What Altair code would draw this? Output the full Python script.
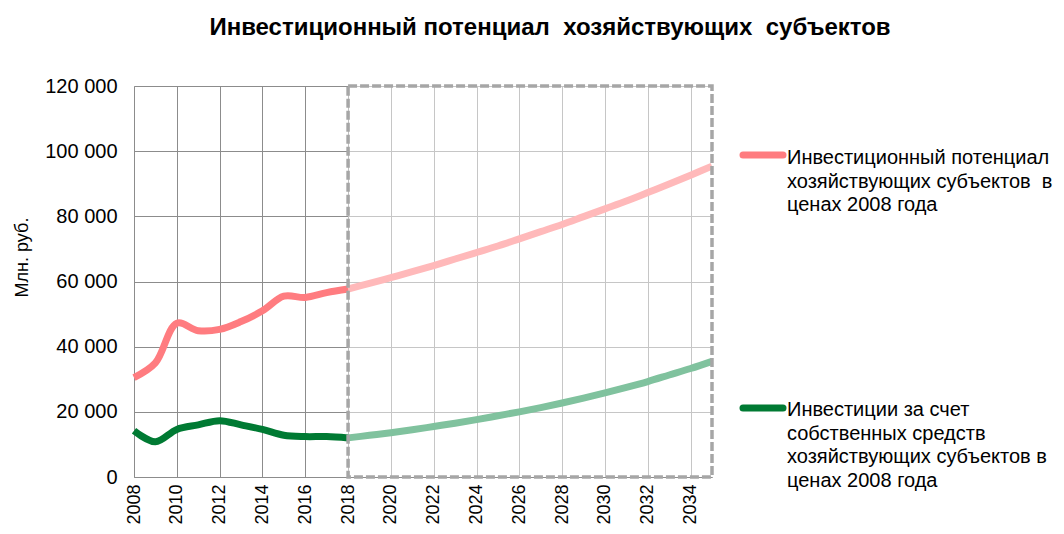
import altair as alt
import pandas as pd

# ---- data ----
hist_years = list(range(2008, 2019))
fc_years = list(range(2018, 2036))

potential_hist = [30500, 35000, 47200, 44900, 45300, 47700, 51000, 55500, 55100, 56600, 57700]
potential_fc = [57700, 59400, 61200, 63000, 64900, 66900, 68900, 70900, 73100, 75300,
                77500, 79900, 82300, 84700, 87300, 89900, 92600, 95400]
own_hist = [14200, 10800, 14600, 16000, 17300, 16000, 14600, 12800, 12400, 12400, 12000]
own_fc = [12000, 12800, 13600, 14500, 15500, 16500, 17600, 18800, 20000, 21300,
          22700, 24200, 25800, 27500, 29300, 31300, 33300, 35500]

series_names = [
    "Инвестиционный потенциал\nхозяйствующих субъектов \u00a0в\nценах 2008 года",
    "Инвестиции за счет\nсобственных средств\nхозяйствующих субъектов в\nценах 2008 года",
]
title_text = "Инвестиционный потенциал \u00a0хозяйствующих \u00a0субъектов"
y_title = "Млн. руб."

FONT = "Liberation Sans"
RED, PINK = "#FF7C80", "#FFB9BA"
DGREEN, LGREEN = "#007A33", "#80C29E"

rows = []
for y, v in zip(hist_years, potential_hist):
    rows.append({"year": y, "value": v, "s": "p_hist"})
for y, v in zip(fc_years, potential_fc):
    rows.append({"year": y, "value": v, "s": "p_fc"})
for y, v in zip(hist_years, own_hist):
    rows.append({"year": y, "value": v, "s": "o_hist"})
for y, v in zip(fc_years, own_fc):
    rows.append({"year": y, "value": v, "s": "o_fc"})
df = pd.DataFrame(rows)

rect_df = pd.DataFrame([{"x": 2018, "x2": 2035, "y": 0, "y2": 120000}])
one = pd.DataFrame([{"k": 0}])

xscale = alt.Scale(domain=[2008, 2035], nice=False, zero=False)
yscale = alt.Scale(domain=[0, 120000], nice=False)

base_x = alt.X("year:Q", scale=xscale, title=None,
               axis=alt.Axis(values=list(range(2008, 2036)),
                             labelExpr="datum.value % 2 == 0 && datum.value < 2035 ? datum.value : ''",
                             labelAngle=-90, labelAlign="right", labelBaseline="middle",
                             labelPadding=7, ticks=False, labelFontSize=18, labelFont=FONT,
                             labelColor="#000000", grid=True, gridColor="#8C8C8C",
                             domainColor="#8C8C8C", labelFlush=False))
base_y = alt.Y("value:Q", scale=yscale, title=y_title,
               axis=alt.Axis(values=list(range(0, 120001, 20000)),
                             labelExpr="datum.value == 0 ? '0' : floor(datum.value/1000) + ' 000'",
                             labelFontSize=20, labelFont=FONT, labelColor="#000000",
                             labelPadding=17, ticks=False, grid=True, gridColor="#8C8C8C",
                             domainColor="#8C8C8C", titleFont=FONT, titleFontSize=18,
                             titleFontWeight="normal", titleColor="#000000",
                             titleX=-112, titleY=171, titleBaseline="middle"))

overlay = alt.Chart(rect_df).mark_rect(fill="white", opacity=0.5).encode(
    x=alt.X("x:Q", scale=xscale), x2="x2:Q",
    y=alt.Y("y:Q", scale=yscale), y2="y2:Q")

lines = alt.Chart(df).mark_line(strokeWidth=7, interpolate="catmull-rom", strokeCap="butt").encode(
    x=base_x, y=base_y,
    color=alt.Color("s:N", scale=alt.Scale(domain=["p_hist", "p_fc", "o_hist", "o_fc"],
                                          range=[RED, PINK, DGREEN, LGREEN]), legend=None),
    detail="s:N")

border = alt.Chart(rect_df).mark_rect(fillOpacity=0, stroke="#A6A6A6", strokeWidth=3.5,
                                      strokeDash=[9, 3]).encode(
    x=alt.X("x:Q", scale=xscale), x2="x2:Q",
    y=alt.Y("y:Q", scale=yscale), y2="y2:Q")

sw1 = alt.Chart(one).mark_rule(color=RED, strokeWidth=7, strokeCap="round").encode(
    x=alt.value(609), x2=alt.value(649), y=alt.value(69))
tx1 = alt.Chart(one).mark_text(align="left", baseline="middle", lineBreak="\n", lineHeight=23.5,
                               fontSize=20, font=FONT, color="#000000",
                               text=series_names[0]).encode(x=alt.value(653), y=alt.value(72))
sw2 = alt.Chart(one).mark_rule(color=DGREEN, strokeWidth=7, strokeCap="round").encode(
    x=alt.value(609), x2=alt.value(649), y=alt.value(322))
tx2 = alt.Chart(one).mark_text(align="left", baseline="middle", lineBreak="\n", lineHeight=23.5,
                               fontSize=20, font=FONT, color="#000000",
                               text=series_names[1]).encode(x=alt.value(653), y=alt.value(324))

chart = alt.layer(overlay, lines, border, sw1, tx1, sw2, tx2).properties(
    width=578, height=391, autosize="none",
    padding={"left": 126, "top": 78, "right": 344, "bottom": 49},
    title=alt.TitleParams(title_text, fontSize=24, fontWeight="bold", font=FONT,
                          anchor="middle", frame="group", dx=127, offset=36, color="#000000"),
).configure_view(strokeWidth=0)

chart.save("out.html", embed_options={"renderer": "svg", "actions": False})
